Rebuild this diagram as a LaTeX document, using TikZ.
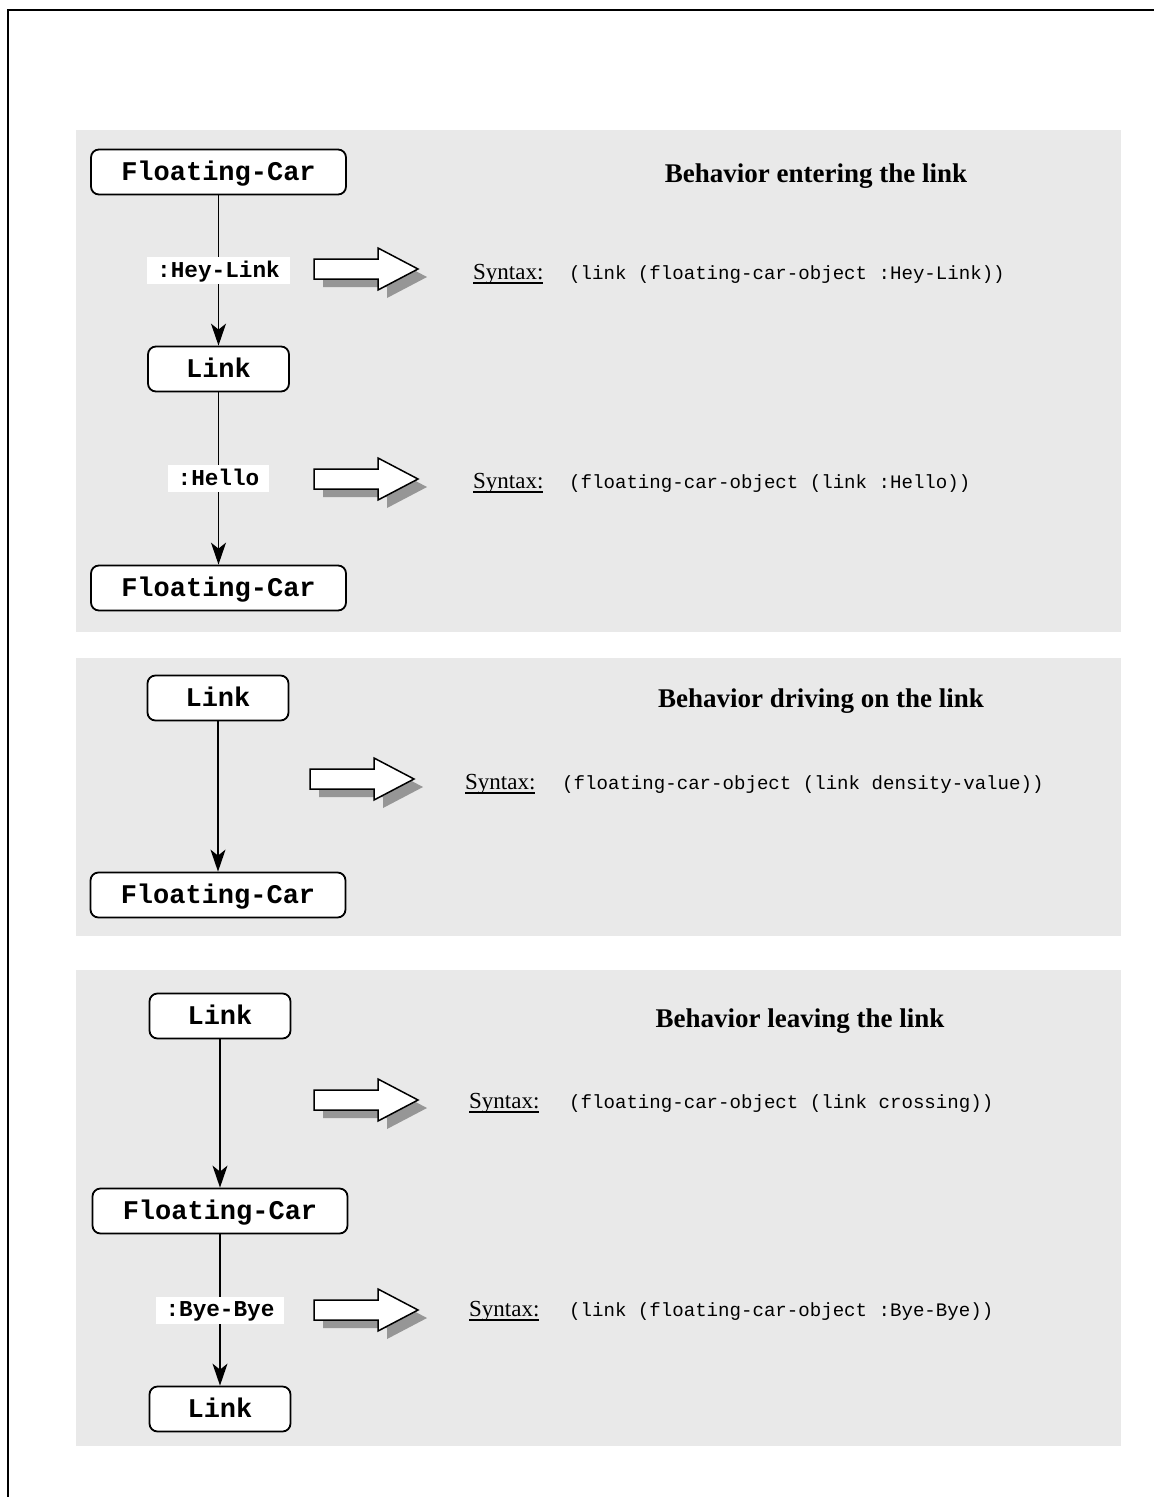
\documentclass[tikz,border=0pt]{standalone}
\usepackage{fontspec}
\setmainfont{Liberation Serif}
\setmonofont{Liberation Mono}
\usetikzlibrary{arrows.meta}
\definecolor{panelgray}{RGB}{233,233,233}
\definecolor{shadowgray}{RGB}{150,150,150}
\newlength\synulw
% underlined "Syntax:" with the rule close to the baseline
\newcommand\synword{\settowidth\synulw{Syntax:}\rlap{\rule[-4.5pt]{\synulw}{1.3pt}}Syntax:}

\begin{document}
\begin{tikzpicture}[x=1pt,y=-1pt,
  panel/.style={fill=panelgray, draw=none},
  objbox/.style={draw, line width=1.8pt, rounded corners=8pt, fill=white,
    minimum height=45pt, inner sep=0pt,
    font=\fontsize{27}{30}\selectfont\ttfamily\bfseries,
    text height=20pt, text depth=4pt},
  carbox/.style={objbox, minimum width=255pt},
  linkbox/.style={objbox, minimum width=141pt},
  msg/.style={fill=white, inner xsep=10pt, inner ysep=0pt, minimum height=27pt,
    font=\fontsize{22.7}{25}\selectfont\ttfamily\bfseries,
    text height=17pt, text depth=3.5pt},
  flow/.style={line width=1.6pt, -{Stealth[length=22pt,width=15pt,inset=6pt]}},
  title/.style={anchor=base, inner sep=0pt, font=\fontsize{27}{30}\selectfont\bfseries},
  syn/.style={anchor=base west, inner sep=0pt, font=\fontsize{23}{26}\selectfont},
  code/.style={anchor=base west, inner sep=0pt, font=\fontsize{19.1}{22}\selectfont\ttfamily},
  pics/blockarrow/.style={code={
    \begin{scope}[shift={(9,8)}]
      \fill[shadowgray] (0,-10) -- (64,-10) -- (64,-21) -- (104,0) -- (64,21) -- (64,10) -- (0,10) -- cycle;
    \end{scope}
    \filldraw[fill=white, draw=black, line width=1.5pt, line join=miter]
      (0,-10) -- (64,-10) -- (64,-21) -- (104,0) -- (64,21) -- (64,10) -- (0,10) -- cycle;
  }}
]
\useasboundingbox (0,0) rectangle (1154,1497);

% page frame
\draw[line width=2pt] (8,1497) -- (8,10) -- (1154,10);

% background panels
\fill[panel] (76,130) rectangle (1121,632);
\fill[panel] (76,658) rectangle (1121,936);
\fill[panel] (76,970) rectangle (1121,1446);

% ---- entering the link ----
\node[title] (t1) at (816,182) {Behavior entering the link};
\node[carbox]  (fc1) at (218.5,172) {Floating-Car};
\node[linkbox] (lk1) at (218.5,369) {Link};
\node[carbox]  (fc2) at (218.5,588) {Floating-Car};
\draw[flow] (fc1) -- node[msg] (m1) {:Hey-Link} (lk1);
\draw[flow] (lk1) -- node[msg] (m2) {:Hello} (fc2);
\pic (a1) at (314,269) {blockarrow};
\pic (a2) at (314,479) {blockarrow};
\node[syn]  (s1) at (473,279) {\synword};
\node[code] (c1) at (569,279) {(link (floating-car-object :Hey-Link))};
\node[syn]  (s2) at (473,488) {\synword};
\node[code] (c2) at (569,488) {(floating-car-object (link :Hello))};

% ---- driving on the link ----
\node[title] (t2) at (821,707) {Behavior driving on the link};
\node[linkbox] (lk2) at (218,698) {Link};
\node[carbox]  (fc3) at (218,895) {Floating-Car};
\draw[flow] (lk2) -- (fc3);
\pic (a3) at (310,779) {blockarrow};
\node[syn]  (s3) at (465,789) {\synword};
\node[code] (c3) at (562,789) {(floating-car-object (link density-value))};

% ---- leaving the link ----
\node[title] (t3) at (800,1027) {Behavior leaving the link};
\node[linkbox] (lk3) at (220,1016) {Link};
\node[carbox]  (fc4) at (220,1211) {Floating-Car};
\node[linkbox] (lk4) at (220,1409) {Link};
\draw[flow] (lk3) -- (fc4);
\draw[flow] (fc4) -- node[msg] (m3) {:Bye-Bye} (lk4);
\pic (a4) at (314,1100) {blockarrow};
\pic (a5) at (314,1310) {blockarrow};
\node[syn]  (s4) at (469,1108) {\synword};
\node[code] (c4) at (569,1108) {(floating-car-object (link crossing))};
\node[syn]  (s5) at (469,1316) {\synword};
\node[code] (c5) at (569,1316) {(link (floating-car-object :Bye-Bye))};
\end{tikzpicture}
\end{document}
